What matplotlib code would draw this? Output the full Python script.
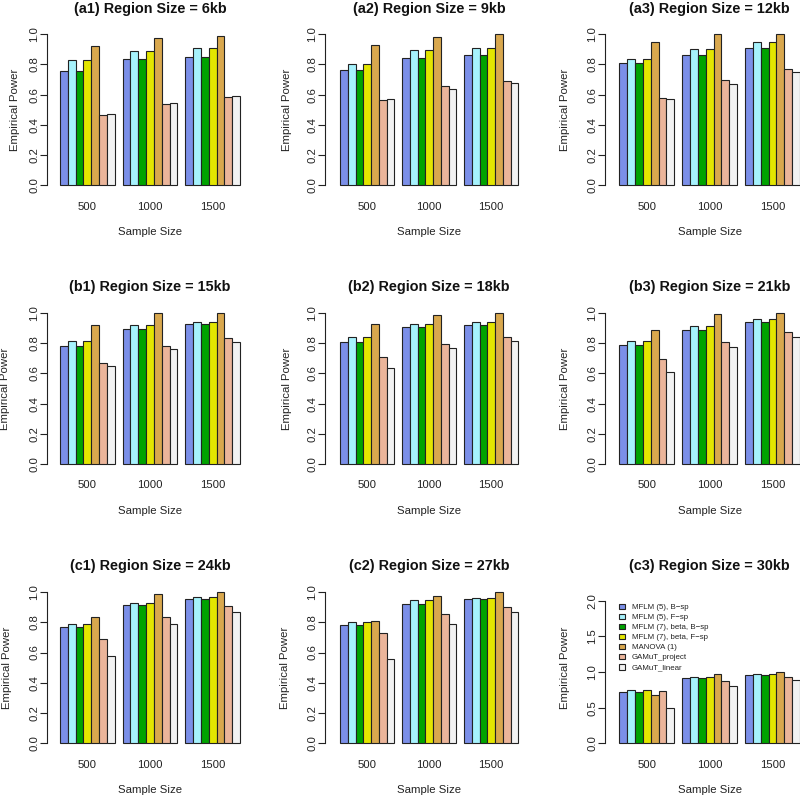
import matplotlib
matplotlib.use("Agg")
import matplotlib.pyplot as plt
from matplotlib.patches import Patch
from matplotlib.transforms import offset_copy

plt.rcParams['font.family'] = ['Liberation Sans', 'DejaVu Sans']

sample_sizes = ["500", "1000", "1500"]
methods = ["MFLM (5), B\u2212sp", "MFLM (5), F\u2212sp", "MFLM (7), beta, B\u2212sp",
           "MFLM (7), beta, F\u2212sp", "MANOVA (1)", "GAMuT_project", "GAMuT_linear"]
colors = ['#7B8FE8', '#A6F2FC', '#00A300', '#E3E600', '#D9A84E', '#EBB59A', '#F2F2F2']
titles = ["(a1) Region Size = 6kb", "(a2) Region Size = 9kb", "(a3) Region Size = 12kb",
          "(b1) Region Size = 15kb", "(b2) Region Size = 18kb", "(b3) Region Size = 21kb",
          "(c1) Region Size = 24kb", "(c2) Region Size = 27kb", "(c3) Region Size = 30kb"]

# values per panel (a1..c3), each for sample sizes 500, 1000, 1500
mflm5_bsp = [[.759, .839, .848], [.764, .845, .865], [.808, .863, .912],
             [.783, .894, .929], [.808, .909, .923], [.785, .889, .940],
             [.769, .912, .956], [.780, .923, .954], [.724, .921, .953]]
mflm5_fsp = [[.830, .890, .912], [.806, .898, .912], [.839, .901, .947],
             [.814, .920, .942], [.843, .925, .942], [.816, .916, .958],
             [.786, .927, .969], [.804, .945, .960], [.752, .935, .967]]
mflm7_bsp = [[.759, .839, .848], [.764, .845, .865], [.808, .863, .912],
             [.783, .894, .929], [.808, .909, .923], [.785, .889, .940],
             [.769, .912, .956], [.780, .923, .954], [.724, .921, .953]]
mflm7_fsp = [[.830, .890, .912], [.806, .898, .912], [.839, .901, .947],
             [.814, .920, .942], [.843, .925, .942], [.816, .916, .958],
             [.786, .927, .969], [.804, .945, .960], [.752, .935, .967]]
manova1 = [[.923, .976, .991], [.932, .985, 1.0], [.951, 1.0, 1.0],
           [.920, 1.0, 1.0], [.929, .987, 1.0], [.887, .993, 1.0],
           [.837, .989, .998], [.808, .976, .998], [.673, .977, .995]]
gamut_project = [[.464, .536, .587], [.567, .656, .691], [.581, .698, .773],
                 [.670, .779, .832], [.706, .792, .838], [.697, .808, .872],
                 [.692, .837, .905], [.727, .852, .901], [.738, .879, .925]]
gamut_linear = [[.472, .543, .594], [.572, .640, .680], [.574, .669, .753],
                [.648, .759, .805], [.637, .765, .814], [.608, .772, .838],
                [.577, .789, .868], [.559, .786, .870], [.500, .808, .883]]
series = [mflm5_bsp, mflm5_fsp, mflm7_bsp, mflm7_fsp, manova1, gamut_project, gamut_linear]

W, H = 800, 799
fig = plt.figure(figsize=(W / 100, H / 100), dpi=100)

# layout (pixels)
zero_px = [185.3, 464.0, 743.3]
top_px = [34.3, 313.0, 592.0]
title_base_px = [12.7, 290.7, 570.0]
axis_px = [47, 325, 605]
bx0 = [60, 340, 619.3]
bx1 = [240, 518.3, 800]
ylab_px = [[15.5, 286.7, 565], [5, 286.7, 565], [6.7, 285, 565]]

n_m = len(methods)
for p in range(9):
    r, c = divmod(p, 3)
    ymax = 2.0 if p == 8 else 1.0
    tpx = 600.7 if p == 8 else top_px[r]
    unit = (bx1[c] - bx0[c]) / 23.0
    left = axis_px[c]
    ax = fig.add_axes([left / W, (H - zero_px[r]) / H, (bx1[c] - left) / W, (zero_px[r] - tpx) / H])
    ax.set_xlim(1 - (bx0[c] - left) / unit, 24)
    ax.set_ylim(0, ymax)
    for m in range(n_m):
        xs = [1 + g * 8 + m for g in range(3)]
        ax.bar(xs, series[m][p], width=1.0, align='edge', color=colors[m],
               edgecolor='#222222', linewidth=0.8, clip_on=False, label=methods[m])
    for s in ['top', 'right', 'bottom']:
        ax.spines[s].set_visible(False)
    ax.spines['left'].set_linewidth(0.8)
    ax.spines['left'].set_color('#222222')
    if p == 8:
        yt = [0.0, 0.5, 1.0, 1.5, 2.0]
    else:
        yt = [0.0, 0.2, 0.4, 0.6, 0.8, 1.0]
    ax.set_yticks(yt)
    ax.set_yticklabels([f"{v:.1f}" for v in yt], rotation=90, va='center')
    ax.tick_params(axis='y', length=5, width=0.8, color='#222222', labelsize=8.2, pad=0.5,
                   labelcolor='#222222')
    ax.set_xticks([])
    tr = offset_copy(ax.transData, fig=fig, y=-21.5 * 0.72, units='points')
    for g in range(3):
        ax.text(1 + g * 8 + 3.5, 0, sample_sizes[g], transform=tr, ha='center', va='center',
                fontsize=8.2, color='#222222')
    cx = (bx0[c] + bx1[c]) / 2
    fig.text(cx / W, 1 - title_base_px[r] / H, titles[p], ha='center', va='baseline',
             fontsize=10.4, fontweight='bold', color='#111111')
    fig.text(cx / W, 1 - (zero_px[r] + 47) / H, "Sample Size", ha='center', va='center',
             fontsize=8.2, color='#222222')
    fig.text(ylab_px[r][c] / W, 1 - ((zero_px[r] + top_px[r]) / 2) / H, "Empirical Power",
             ha='center', va='center', rotation=90, fontsize=8.2, color='#222222')
    if p == 8:
        handles = [Patch(facecolor=colors[m], edgecolor='#222222', linewidth=0.8) for m in range(n_m)]
        leg = ax.legend(handles, methods, loc='upper left',
                        bbox_to_anchor=(619 / W, 1 - 603.5 / H), bbox_transform=fig.transFigure,
                        frameon=False, fontsize=5.7, handlelength=0.75, handleheight=0.75,
                        handletextpad=0.9, labelspacing=0.3, borderpad=0, borderaxespad=0)
        for t in leg.get_texts():
            t.set_color('#222222')

fig.savefig("out.png", dpi=100)
